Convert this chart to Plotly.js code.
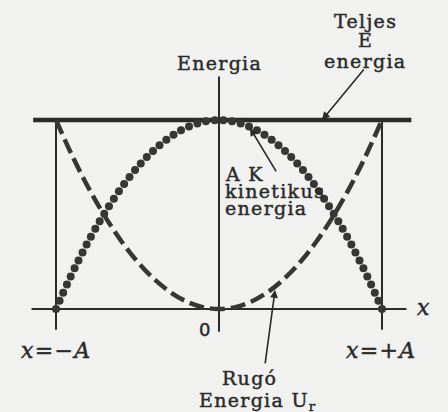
<!DOCTYPE html>
<html><head><meta charset="utf-8">
<script src="https://cdn.plot.ly/plotly-3.0.1.min.js"></script>
<style>html,body{margin:0;padding:0;background:#f1f1ef;}#c{width:448px;height:412px;}
.annotation-text{letter-spacing:1.3px;stroke:#2a2a2a;stroke-width:0.45px;}</style>
</head><body><div id="c"></div>
<script>
// Positions in units of amplitude A (x) and total energy E (y)
const kinX = [-1.000,-0.978,-0.956,-0.933,-0.910,-0.886,-0.862,-0.837,-0.812,-0.786,-0.759,-0.732,-0.704,-0.675,-0.645,-0.614,-0.582,-0.549,-0.515,-0.480,-0.443,-0.405,-0.365,-0.323,-0.279,-0.233,-0.184,-0.133,-0.080,-0.026,
  0.026,0.080,0.133,0.184,0.233,0.279,0.323,0.365,0.405,0.443,0.480,0.515,0.549,0.582,0.614,0.645,0.675,0.704,0.732,0.759,0.786,0.812,0.837,0.862,0.886,0.910,0.933,0.956,0.978,1.000];
const kinE = [0.000,0.044,0.086,0.130,0.172,0.215,0.257,0.299,0.341,0.382,0.424,0.464,0.504,0.544,0.584,0.623,0.661,0.699,0.735,0.770,0.804,0.836,0.867,0.896,0.922,0.946,0.966,0.982,0.994,0.999,
  0.999,0.994,0.982,0.966,0.946,0.922,0.896,0.867,0.836,0.804,0.770,0.735,0.699,0.661,0.623,0.584,0.544,0.504,0.464,0.424,0.382,0.341,0.299,0.257,0.215,0.172,0.130,0.086,0.044,0.000];
const potX = [-1.0,-0.9,-0.8,-0.7,-0.6,-0.5,-0.4,-0.3,-0.2,-0.1,0.0,0.1,0.2,0.3,0.4,0.5,0.6,0.7,0.8,0.9,1.0];
const potE = [1.00,0.81,0.64,0.49,0.36,0.25,0.16,0.09,0.04,0.01,0.00,0.01,0.04,0.09,0.16,0.25,0.36,0.49,0.64,0.81,1.00];
const totalX = [-1.14, 1.18];
const totalE = [1, 1];
const xAxisX = [-1.15, 1.15];
const xAxisY = [0, 0];
const eAxisX = [0, 0];
const eAxisY = [-0.12, 1.23];
const leftAX = [-1, -1];
const rightAX = [1, 1];
const ampLineY = [1, -0.11];

const ink = '#2a2a2a';
const serif = 'DejaVu Serif, serif';
const traces = [
  {x: xAxisX, y: xAxisY, mode:'lines', line:{color:ink, width:2}},
  {x: eAxisX, y: eAxisY, mode:'lines', line:{color:ink, width:2}},
  {x: leftAX, y: ampLineY, mode:'lines', line:{color:ink, width:2}},
  {x: rightAX, y: ampLineY, mode:'lines', line:{color:ink, width:2}},
  {x: totalX, y: totalE, mode:'lines', line:{color:ink, width:4.5}},
  {x: potX, y: potE, mode:'lines', line:{color:'#363636', width:4.5, dash:'15px,6px', shape:'spline'}},
  {x: kinX, y: kinE, mode:'markers', marker:{color:'#363636', size:8}}
];

const F = {family:serif, size:19, color:ink};
const ann = (x,y,text,opts) => Object.assign({x, y, xref:'x', yref:'y', text, showarrow:false, font:F}, opts||{});
const arrow = (x,y,ax,ay) => ({x, y, xref:'x', yref:'y', ax, ay, axref:'x', ayref:'y', text:'', showarrow:true,
      arrowhead:2, arrowsize:1, arrowwidth:1.6, arrowcolor:ink});
const XF = {family:serif, size:22, color:ink};
const layout = {
  width:448, height:412, margin:{l:0,r:0,t:0,b:0},
  paper_bgcolor:'#f1f1ef', plot_bgcolor:'#f1f1ef', showlegend:false,
  xaxis:{range:[-1.3436,1.4049], visible:false, fixedrange:true},
  yaxis:{range:[-0.545,1.635], visible:false, fixedrange:true},
  annotations:[
    ann(0, 1.30, 'Energia'),
    ann(0.896, 1.524, 'Teljes'),
    ann(0.896, 1.423, 'E'),
    ann(0.896, 1.312, 'energia'),
    ann(0.025, 0.714, 'A K', {xanchor:'left'}),
    ann(0.025, 0.624, 'kinetikus', {xanchor:'left'}),
    ann(0.025, 0.534, 'energia', {xanchor:'left'}),
    ann(0.19, -0.365, 'Rugó'),
    ann(0.239, -0.487, 'Energia U<sub>r</sub>'),
    ann(-0.08, -0.111, '0', {font:{family:'DejaVu Sans, sans-serif', size:18, color:ink}}),
    ann(-1.0, -0.222, '<i>x</i>=−<i>A</i>', {font:XF}),
    ann(0.994, -0.222, '<i>x</i>=+<i>A</i>', {font:XF}),
    ann(1.258, 0.01, '<i>x</i>', {font:XF}),
    arrow(0.632, 1.0, 0.896, 1.275),
    arrow(0.190, 0.958, 0.356, 0.720),
    arrow(0.344, 0.101, 0.282, -0.296)
  ]
};
Plotly.newPlot('c', traces, layout, {staticPlot:true, displayModeBar:false});
</script></body></html>
